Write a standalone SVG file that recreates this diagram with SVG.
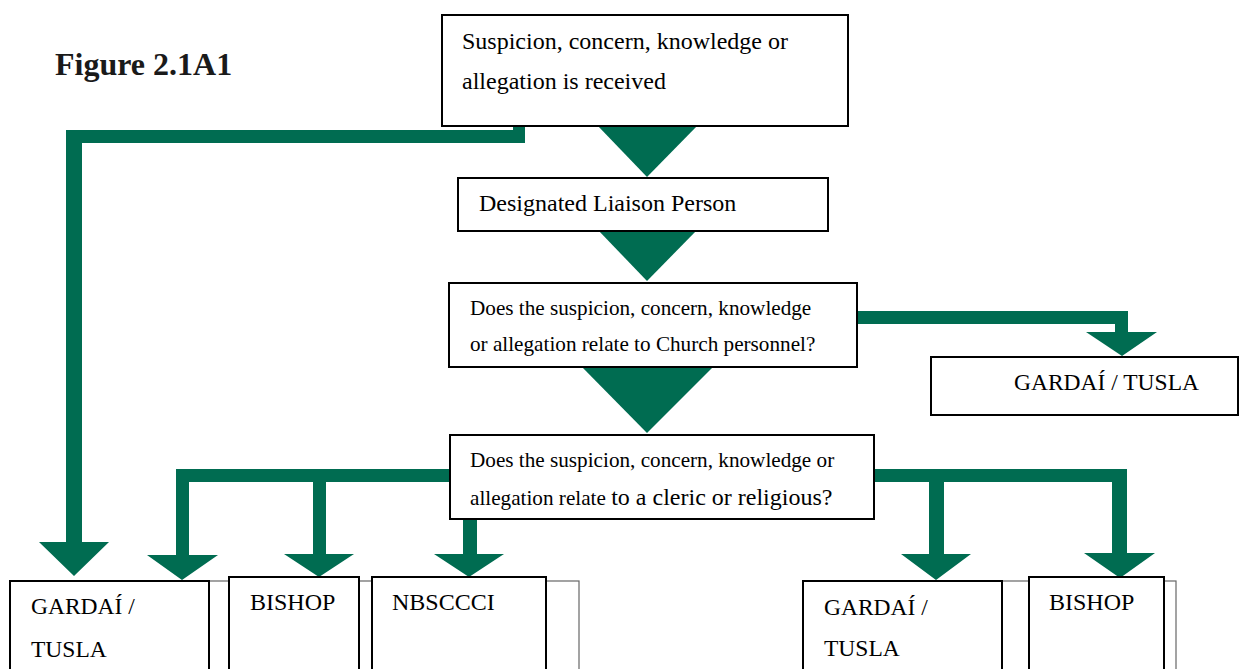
<svg xmlns="http://www.w3.org/2000/svg" width="1239" height="669" viewBox="0 0 1239 669">
<style>
.box{fill:#fff;stroke:#000;stroke-width:2}
.frame{fill:none;stroke:#666;stroke-width:1.2}
.arrow{fill:#006C51;stroke:none}
text{font-family:"Liberation Serif","Times New Roman",serif;fill:#000}
.t24{font-size:24px}
.t235{font-size:23.5px}
.t21{font-size:21.2px}
.title{font-size:32px;font-weight:bold;fill:#1a1a1a}
</style>
<rect width="1239" height="669" fill="#fff"/>
<text class="title" x="55" y="75">Figure 2.1A1</text>
<g id="connectors">
<polygon class="arrow" points="525,126 525,143 82,143 82,542 109,542 74,576 39,542 66,542 66,130 513,130 513,126"/>
<polygon class="arrow" points="597,125 698,125 647,177"/>
<polygon class="arrow" points="598,230 697,230 647,281"/>
<polygon class="arrow" points="581,366 714,366 647,433"/>
<polygon class="arrow" points="857,311 1128,311 1128,332 1157,332 1122,356 1086,332 1115,332 1115,324 857,324"/>
<polygon class="arrow" points="450,469 176,469 176,555 147,555 182,580 218,555 189,555 189,482 313,482 313,554 284,554 319,577 354,554 326,554 326,482 450,482"/>
<polygon class="arrow" points="463,519 477,519 477,554 504,554 469,577 434,554 463,554"/>
<polygon class="arrow" points="874,469 1127,469 1127,553 1155,553 1120,578 1084,553 1112,553 1112,482 944,482 944,554 971,554 936,580 901,554 929,554 929,482 874,482"/>
</g>
<g id="n-received">
<rect class="box" x="442" y="15" width="406" height="111"/>
<text class="t24" x="462" y="49">Suspicion, concern, knowledge or</text>
<text class="t24" x="462" y="89">allegation is received</text>
</g>
<g id="n-dlp">
<rect class="box" x="458" y="178" width="370" height="53"/>
<text class="t24" x="479" y="211">Designated Liaison Person</text>
</g>
<g id="n-church">
<rect class="box" x="449" y="283" width="408" height="84"/>
<text class="t21" x="470" y="315">Does the suspicion, concern, knowledge</text>
<text class="t21" x="470" y="351">or allegation relate to Church personnel?</text>
</g>
<g id="n-gardai-right">
<rect class="box" x="931" y="357" width="307" height="58"/>
<text class="t235" x="1014" y="390">GARDAÍ / TUSLA</text>
</g>
<g id="n-cleric">
<rect class="box" x="450" y="435" width="424" height="84"/>
<text class="t21" x="470" y="467">Does the suspicion, concern, knowledge or</text>
<text x="470" y="505"><tspan class="t21">allegation relate </tspan><tspan class="t24">to a cleric or religious?</tspan></text>
</g>
<g id="frame-left">
<rect class="frame" x="10" y="581" width="569" height="120"/>
</g>
<g id="n-gardai-1">
<rect class="box" x="10" y="581" width="199" height="120"/>
<text class="t235" x="31" y="614">GARDAÍ /</text>
<text class="t235" x="31" y="657">TUSLA</text>
</g>
<g id="n-bishop-1">
<rect class="box" x="229" y="577" width="130" height="120"/>
<text class="t24" x="250" y="610">BISHOP</text>
</g>
<g id="n-nbsccci">
<rect class="box" x="372" y="577" width="174" height="120"/>
<text class="t24" x="392" y="610">NBSCCCI</text>
</g>
<g id="frame-right">
<rect class="frame" x="803" y="581" width="373" height="120"/>
</g>
<g id="n-gardai-2">
<rect class="box" x="803" y="581" width="199" height="120"/>
<text class="t235" x="824" y="615">GARDAÍ /</text>
<text class="t235" x="824" y="656">TUSLA</text>
</g>
<g id="n-bishop-2">
<rect class="box" x="1029" y="577" width="135" height="120"/>
<text class="t24" x="1049" y="610">BISHOP</text>
</g>
</svg>
